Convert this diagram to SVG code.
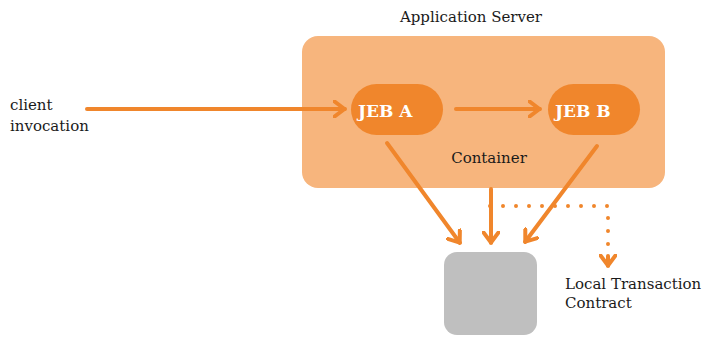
<svg xmlns="http://www.w3.org/2000/svg" width="702" height="337" viewBox="0 0 702 337">
<style>
.t{font-family:"DejaVu Serif","Liberation Serif",serif;font-size:15px;fill:#1a1a1a}
.b{font-family:"DejaVu Serif","Liberation Serif",serif;font-size:17px;font-weight:bold;fill:#ffffff}
.c{stroke:#F0862C;stroke-width:4;fill:none;stroke-linecap:round;stroke-linejoin:round}
.d{stroke:#F0862C;stroke-width:4;fill:none;stroke-linecap:round;stroke-dasharray:0 13}
</style>
<defs>
<marker id="ah" viewBox="0 0 13 18" refX="12" refY="9" markerWidth="13" markerHeight="18" markerUnits="userSpaceOnUse" orient="auto">
<path d="M1.5,1.5 L11.5,9 L1.5,16.5" fill="none" stroke="#F0862C" stroke-width="4" stroke-linecap="round" stroke-linejoin="round"/>
</marker>
</defs>
<g id="server">
<rect x="302" y="36" width="363" height="152" rx="16" fill="#F7B57D"/>
<text class="t" x="471" y="22" text-anchor="middle">Application Server</text>
<text class="t" x="489" y="163" text-anchor="middle">Container</text>
</g>
<g id="jebA">
<rect x="351" y="84" width="92" height="51" rx="25.5" fill="#F0862C"/>
<text class="b" x="358" y="117">JEB A</text>
</g>
<g id="jebB">
<rect x="548" y="84" width="92" height="51" rx="25.5" fill="#F0862C"/>
<text class="b" x="555" y="117">JEB B</text>
</g>
<g id="resource">
<rect x="444" y="252" width="93" height="83" rx="13" fill="#BFBFBF"/>
</g>
<g id="client">
<text class="t" x="10" y="110">client</text>
<text class="t" x="10" y="131">invocation</text>
</g>
<g id="ltc">
<text class="t" x="565" y="289">Local Transaction</text>
<text class="t" x="565" y="308">Contract</text>
</g>
<g id="connectors">
<path class="c" d="M87,109 L345,109" marker-end="url(#ah)"/>
<path class="c" d="M456,109 L540,109" marker-end="url(#ah)"/>
<path class="c" d="M387,143 L460,243" marker-end="url(#ah)"/>
<path class="c" d="M491,189 L491,243" marker-end="url(#ah)"/>
<path class="c" d="M597,146 L525,242" marker-end="url(#ah)"/>
<path class="d" d="M490,206 L608,206 L608,256"/>
<path class="c" d="M608,256 L608,266" marker-end="url(#ah)"/>
</g>
</svg>
